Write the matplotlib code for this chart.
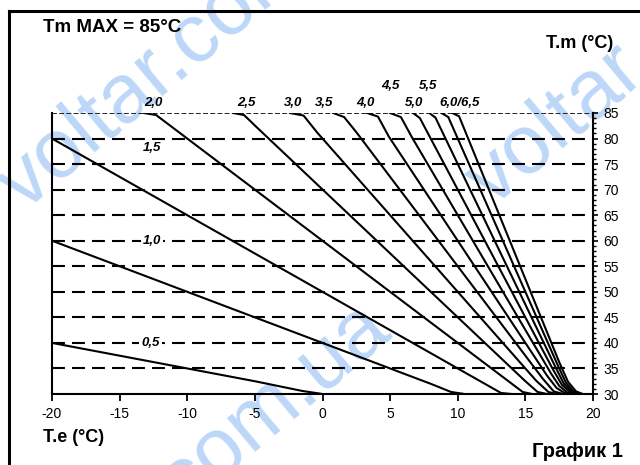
import matplotlib
matplotlib.use("Agg")
import matplotlib.pyplot as plt
from matplotlib.lines import Line2D
from matplotlib.ticker import MultipleLocator

plt.rcParams['font.family'] = ['Liberation Sans', 'DejaVu Sans']
plt.rcParams['axes.unicode_minus'] = False

# heating curves: outdoor temp T.e -> flow temp T.m
te_05 = [-20, -5, -1.5, 0]
tm_05 = [40, 32.5, 30.6, 30]
te_10 = [-20, 8, 9.5, 10.5]
tm_10 = [60, 32, 30.4, 30]
te_15 = [-20, 12, 13.2, 14]
tm_15 = [80, 32, 30.2, 30]
te_20 = [-13.2, -12.3, -11.2, 13.8, 14.8, 15.5]
tm_20 = [85, 84.6, 82.4, 32.4, 30.4, 30]
te_25 = [-6.6, -5.8, -4.9, 15.0, 15.9, 16.6]
tm_25 = [85, 84.6, 82.3, 32.5, 30.4, 30]
te_30 = [-2.4, -1.4, -0.4, 15.8, 16.7, 17.3]
tm_30 = [85, 84.5, 81.2, 32.6, 30.4, 30]
te_35 = [0.8, 1.6, 2.5, 16.3, 17.1, 17.8]
tm_35 = [85, 84.2, 81.25, 32.95, 30.5, 30]
te_40 = [3.3, 4.1, 4.9, 16.6, 17.3, 17.9, 18.4]
tm_40 = [85, 84.3, 80.4, 33.6, 31.2, 30.2, 30]
te_45 = [5.0, 5.8, 6.6, 16.9, 17.5, 18.1, 18.6]
tm_45 = [85, 84.2, 80.3, 34.0, 31.6, 30.3, 30]
te_50 = [6.7, 7.2, 17.0, 17.7, 18.3, 18.8]
tm_50 = [85, 84.0, 35.0, 31.8, 30.4, 30]
te_55 = [7.9, 8.35, 17.2, 17.85, 18.45, 18.95]
tm_55 = [85, 84.1, 35.4, 32.0, 30.4, 30]
te_60 = [8.8, 9.3, 17.4, 18.0, 18.6, 19.1]
tm_60 = [85, 84.2, 35.6, 32.2, 30.4, 30]
te_65 = [9.6, 10.1, 17.5, 18.15, 18.75, 19.25]
tm_65 = [85, 84.35, 36.25, 32.4, 30.5, 30]

# curve labels and where they sit (T.e, T.m)
curve_labels = ['2,0', '2,5', '3,0', '3,5', '4,0', '4,5', '5,0', '5,5', '6,0/6,5', '1,5', '1,0', '0,5']
label_te = [-12.5, -5.6, -2.2, 0.1, 3.2, 5.0, 6.8, 7.8, 10.1, -12.6, -12.6, -12.7]
label_tm = [87.0, 87.0, 87.0, 87.0, 87.0, 90.3, 87.0, 90.3, 87.0, 78.2, 60, 40]

grid_levels = [35, 40, 45, 50, 55, 60, 65, 70, 75, 80]

fig = plt.figure(figsize=(6.4, 4.65), dpi=100)
ax = fig.add_axes([52/640, 1-394/465, 541/640, 281/465])
ax.patch.set_alpha(0)

# watermark
wm = '#bdd7f8'
fig.text(24/640, 1-212/465, 'voltar.com.ua', fontsize=60, color=wm, rotation=40,
         rotation_mode='anchor', ha='left', va='baseline', zorder=-5)
fig.text(394/640, 1-335/465, 'voltar.com.ua', fontsize=60, color=wm, rotation=40,
         rotation_mode='anchor', ha='right', va='baseline', zorder=-5)
fig.text(492/640, 1-208/465, 'voltar.com.ua', fontsize=60, color=wm, rotation=40,
         rotation_mode='anchor', ha='left', va='baseline', zorder=-5)

for lv in grid_levels:
    ax.plot([-20, 20], [lv, lv], color='black', lw=1.5, dashes=(6.2, 3.4), zorder=1)
ax.plot([-20, 20], [85, 85], color='#222222', lw=1.4, dashes=(2.5, 1.2), zorder=1)

curves = [(te_05, tm_05), (te_10, tm_10), (te_15, tm_15), (te_20, tm_20),
          (te_25, tm_25), (te_30, tm_30), (te_35, tm_35), (te_40, tm_40),
          (te_45, tm_45), (te_50, tm_50), (te_55, tm_55), (te_60, tm_60),
          (te_65, tm_65)]
for te, tm in curves:
    ax.plot(te, tm, color='black', lw=1.5, solid_joinstyle='round', zorder=3)

for lab, x, y in zip(curve_labels, label_te, label_tm):
    bbox = None
    if y in (60, 40):
        bbox = dict(facecolor='white', edgecolor='none', pad=1.5)
    ax.text(x, y, lab, fontsize=9.5, fontweight='bold', style='italic',
            ha='center', va='center', clip_on=False, bbox=bbox, zorder=4)

ax.set_xlim(-20, 20)
ax.set_ylim(30, 85)
ax.set_xticks(range(-20, 21, 5))
ax.yaxis.tick_right()
ax.set_yticks(range(30, 86, 5))
ax.yaxis.set_minor_locator(MultipleLocator(1))
ax.tick_params(axis='x', direction='out', length=5, width=1.3, pad=4, labelsize=10)
ax.tick_params(axis='y', which='major', direction='out', length=3.5, width=1.2, pad=4, labelsize=10)
ax.tick_params(axis='y', which='minor', direction='out', length=2.2, width=1.0)
ax.spines['top'].set_visible(False)
for s in ['left', 'right', 'bottom']:
    ax.spines[s].set_linewidth(1.5)

fig.text(43/640, 1-28/465, 'Tm MAX = 85°C', fontsize=13.5, fontweight='bold', ha='left', va='center')
fig.text(613/640, 1-43/465, 'T.m (°C)', fontsize=13, fontweight='bold', ha='right', va='center')
fig.text(43/640, 1-437/465, 'T.e (°C)', fontsize=13, fontweight='bold', ha='left', va='center')
fig.text(623/640, 1-451/465, 'График 1', fontsize=14.5, fontweight='bold', ha='right', va='center')

# outer frame (only top and left edges fall inside the picture)
fig.add_artist(Line2D([9/640, 1.0], [1-11/465, 1-11/465], transform=fig.transFigure, lw=2.2, color='black'))
fig.add_artist(Line2D([9/640, 9/640], [0, 1-11/465], transform=fig.transFigure, lw=2.2, color='black'))

fig.savefig('out.png', dpi=100)
